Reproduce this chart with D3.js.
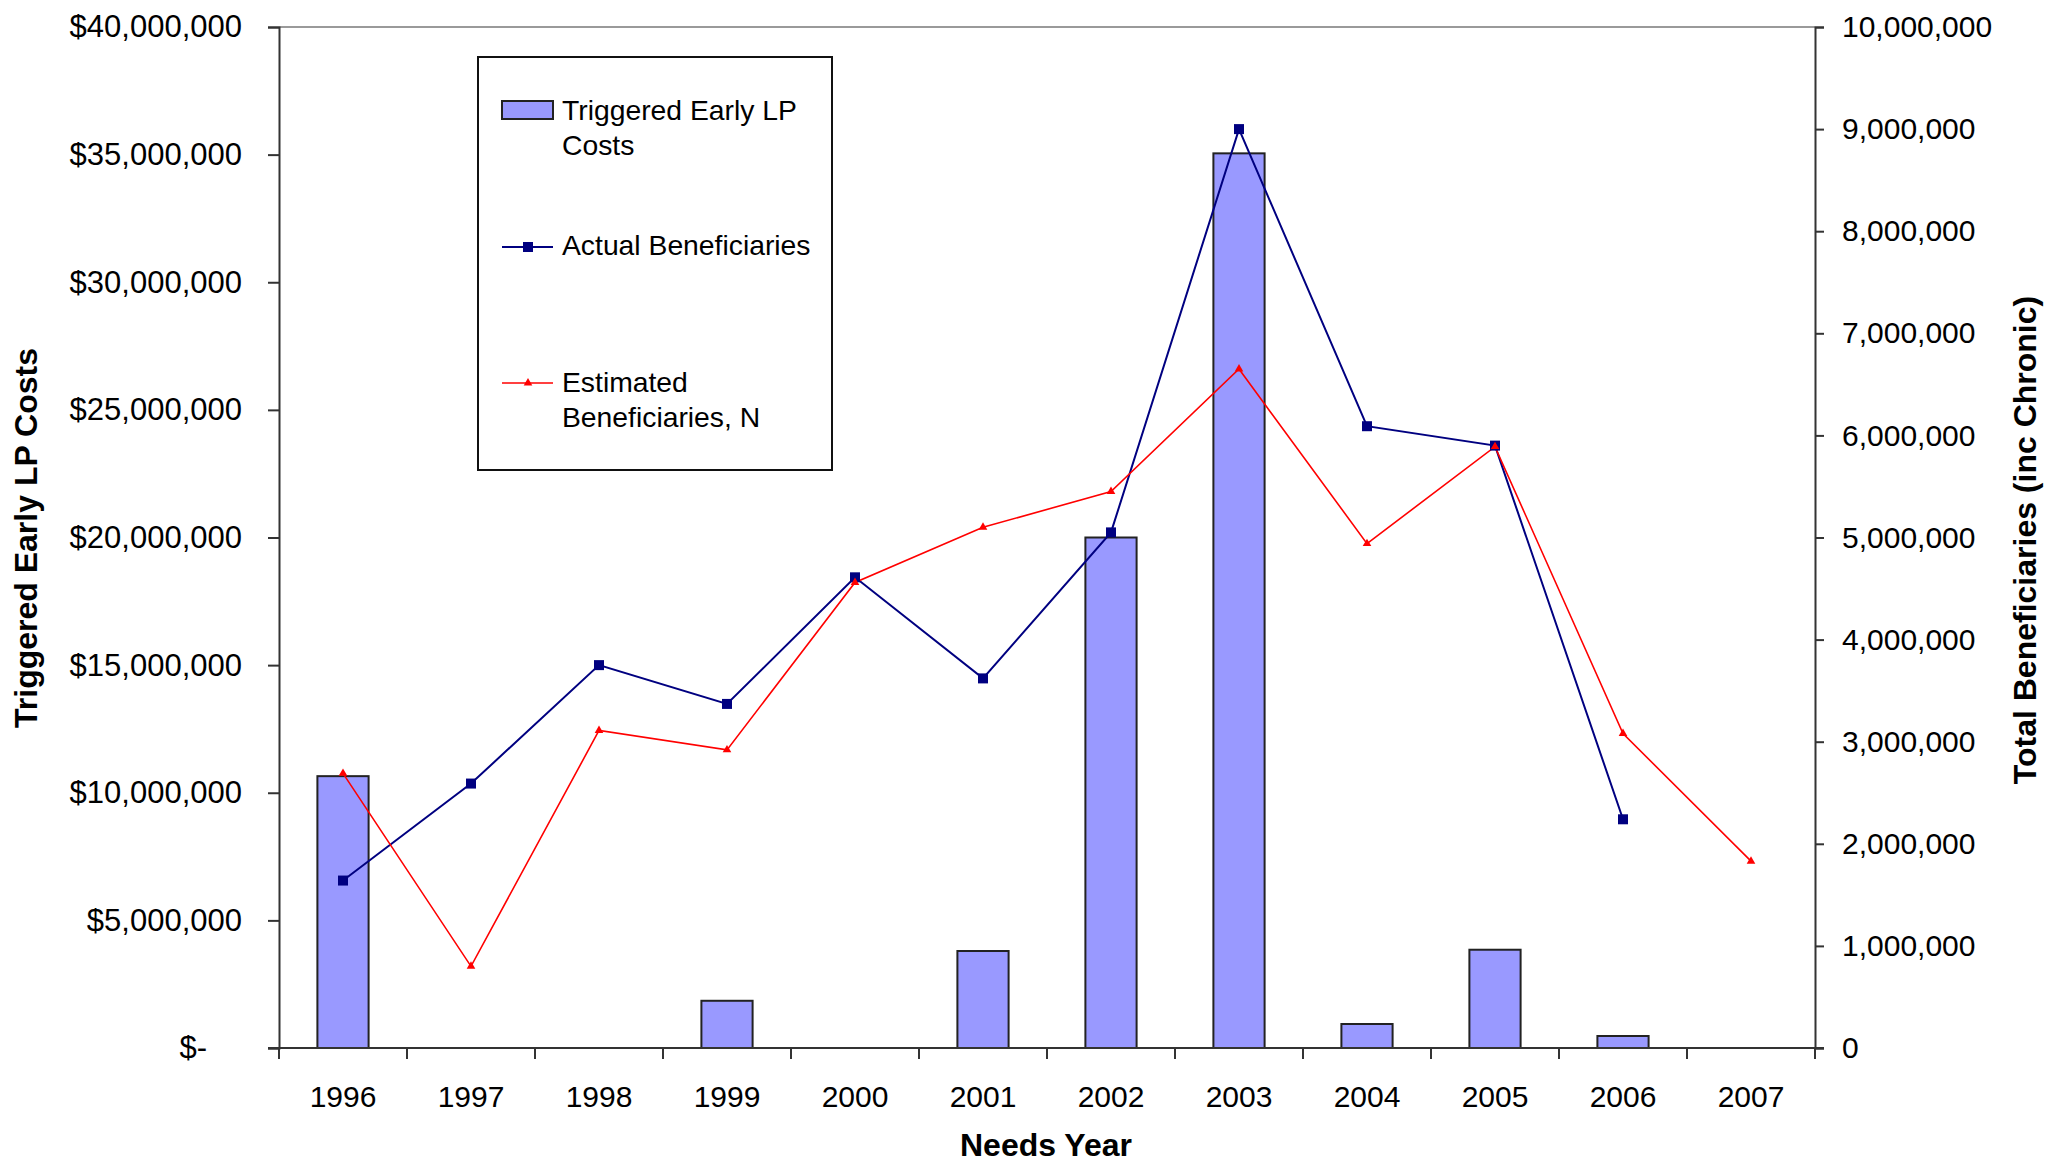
<!DOCTYPE html>
<html>
<head>
<meta charset="utf-8">
<script src="https://cdn.jsdelivr.net/npm/d3@7"></script>
<style>
  html, body { margin: 0; padding: 0; background: #fff; }
  svg { display: block; font-family: "Liberation Sans", Arial, sans-serif; }
</style>
</head>
<body>
<svg id="chart" width="2045" height="1165"></svg>
<script>
// Needs years on the category axis
const years = ["1996", "1997", "1998", "1999", "2000", "2001", "2002", "2003", "2004", "2005", "2006", "2007"];

// Triggered early LP costs (left axis, dollars)
const lpCosts = [10650000, 0, 0, 1850000, 0, 3800000, 20000000, 35050000, 940000, 3850000, 470000, 0];

// Actual beneficiaries (right axis); no figure yet for 2007
const actualBenef = [1640000, 2590000, 3750000, 3370000, 4610000, 3620000, 5050000, 9000000, 6090000, 5900000, 2240000, null];

// Estimated beneficiaries, N (right axis)
const estimatedBenef = [2690000, 800000, 3110000, 2920000, 4560000, 5100000, 5450000, 6650000, 4940000, 5890000, 3080000, 1830000];

// Axis tick values
const leftTicks = [0, 5000000, 10000000, 15000000, 20000000, 25000000, 30000000, 35000000, 40000000];
const rightTicks = [0, 1000000, 2000000, 3000000, 4000000, 5000000, 6000000, 7000000, 8000000, 9000000, 10000000];

const svg = d3.select("#chart");
const plot = { left: 279, right: 1815, top: 27, bottom: 1048 };

const x = d3.scaleBand().domain(years).range([plot.left, plot.right]).paddingInner(0).paddingOuter(0);
const yL = d3.scaleLinear().domain([0, 40000000]).range([plot.bottom, plot.top]);
const yR = d3.scaleLinear().domain([0, 10000000]).range([plot.bottom, plot.top]);

const barW = x.bandwidth() * 0.4;
const cx = d => x(d) + x.bandwidth() / 2;

// plot area top border
svg.append("line")
  .attr("x1", plot.left).attr("x2", plot.right)
  .attr("y1", plot.top).attr("y2", plot.top)
  .attr("stroke", "#9a9a9a").attr("stroke-width", 2);

// bars: triggered early LP costs
svg.append("g").selectAll("rect")
  .data(years.map((yr, i) => ({ yr, v: lpCosts[i] })).filter(d => d.v > 0))
  .join("rect")
  .attr("x", d => cx(d.yr) - barW / 2)
  .attr("width", barW)
  .attr("y", d => yL(d.v))
  .attr("height", d => yL(0) - yL(d.v))
  .attr("fill", "#9999FF")
  .attr("stroke", "#222")
  .attr("stroke-width", 2);

// left axis
const fmtDollar = d3.format(",");
const axL = svg.append("g")
  .attr("transform", `translate(${plot.left},0)`)
  .call(d3.axisLeft(yL).tickValues(leftTicks).tickSize(11).tickPadding(26)
    .tickFormat(d => d === 0 ? "$-" : "$" + fmtDollar(d)));

// right axis
const axR = svg.append("g")
  .attr("transform", `translate(${plot.right},0)`)
  .call(d3.axisRight(yR).tickValues(rightTicks).tickSize(9).tickPadding(18)
    .tickFormat(d3.format(",")));

// bottom axis: labels centred in each band
const axB = svg.append("g")
  .attr("transform", `translate(0,${plot.bottom})`)
  .call(d3.axisBottom(x).tickSize(0).tickPadding(38));

// tick marks on the category boundaries
const bounds = years.map(d => x(d)).concat([x(years[years.length - 1]) + x.bandwidth()]);
axB.selectAll("line.bound").data(bounds).join("line")
  .attr("class", "bound")
  .attr("x1", d => d).attr("x2", d => d)
  .attr("y1", 0).attr("y2", 11)
  .attr("stroke", "#333").attr("stroke-width", 2);
axB.select(".domain").attr("d", `M${plot.left - 11},0H${plot.right + 9}`);

[axL, axR, axB].forEach(ax => {
  ax.selectAll(".domain").attr("stroke", "#333").attr("stroke-width", 2);
  ax.selectAll(".tick line").attr("stroke", "#333").attr("stroke-width", 2);
  ax.selectAll("text").attr("font-size", 30).attr("fill", "#000")
    .attr("font-family", "Liberation Sans, Arial, sans-serif");
});
axL.selectAll("text").attr("font-size", 31);
// the zero label sits further left, like an accounting format
axL.selectAll("text").filter(d => d === 0).attr("x", -72);

// series lines
const lineGen = yScale => d3.line()
  .defined(d => d.v != null)
  .x(d => cx(d.yr))
  .y(d => yScale(d.v));

const actualData = years.map((yr, i) => ({ yr, v: actualBenef[i] }));
const estData = years.map((yr, i) => ({ yr, v: estimatedBenef[i] }));

svg.append("path").datum(actualData)
  .attr("d", lineGen(yR))
  .attr("fill", "none").attr("stroke", "#000080").attr("stroke-width", 2);

svg.append("path").datum(estData)
  .attr("d", lineGen(yR))
  .attr("fill", "none").attr("stroke", "#FF0000").attr("stroke-width", 1.6);

const sq = 10;
svg.append("g").selectAll("rect")
  .data(actualData.filter(d => d.v != null))
  .join("rect")
  .attr("x", d => cx(d.yr) - sq / 2)
  .attr("y", d => yR(d.v) - sq / 2)
  .attr("width", sq).attr("height", sq)
  .attr("fill", "#000080");

const tri = d3.symbol().type(d3.symbolTriangle).size(32);
svg.append("g").selectAll("path")
  .data(estData)
  .join("path")
  .attr("d", tri)
  .attr("transform", d => `translate(${cx(d.yr)},${yR(d.v)})`)
  .attr("fill", "#FF0000");

// axis titles
svg.append("text")
  .attr("transform", `translate(37,538) rotate(-90)`)
  .attr("text-anchor", "middle")
  .attr("font-size", 32).attr("font-weight", "bold")
  .text("Triggered Early LP Costs");

svg.append("text")
  .attr("transform", `translate(2036,540) rotate(-90)`)
  .attr("text-anchor", "middle")
  .attr("font-size", 32).attr("font-weight", "bold")
  .text("Total Beneficiaries (inc Chronic)");

svg.append("text")
  .attr("x", 1046).attr("y", 1156)
  .attr("text-anchor", "middle")
  .attr("font-size", 32).attr("font-weight", "bold")
  .text("Needs Year");

// legend
const lg = svg.append("g");
lg.append("rect")
  .attr("x", 478).attr("y", 57).attr("width", 354).attr("height", 413)
  .attr("fill", "#fff").attr("stroke", "#111").attr("stroke-width", 2);

lg.append("rect")
  .attr("x", 502).attr("y", 101).attr("width", 51).attr("height", 18)
  .attr("fill", "#9999FF").attr("stroke", "#222").attr("stroke-width", 2);

lg.append("line").attr("x1", 502).attr("x2", 553).attr("y1", 247).attr("y2", 247)
  .attr("stroke", "#000080").attr("stroke-width", 2);
lg.append("rect").attr("x", 528 - sq / 2).attr("y", 247 - sq / 2)
  .attr("width", sq).attr("height", sq).attr("fill", "#000080");

lg.append("line").attr("x1", 502).attr("x2", 553).attr("y1", 383).attr("y2", 383)
  .attr("stroke", "#FF0000").attr("stroke-width", 1.6);
lg.append("path").attr("d", tri).attr("transform", "translate(528,383)").attr("fill", "#FF0000");

const legendText = [
  { y: 120, t: "Triggered Early LP" },
  { y: 155, t: "Costs" },
  { y: 255, t: "Actual Beneficiaries" },
  { y: 392, t: "Estimated" },
  { y: 427, t: "Beneficiaries, N" }
];
lg.selectAll("text.lt").data(legendText).join("text")
  .attr("class", "lt")
  .attr("x", 562).attr("y", d => d.y)
  .attr("font-size", 28.3)
  .text(d => d.t);
</script>
</body>
</html>
